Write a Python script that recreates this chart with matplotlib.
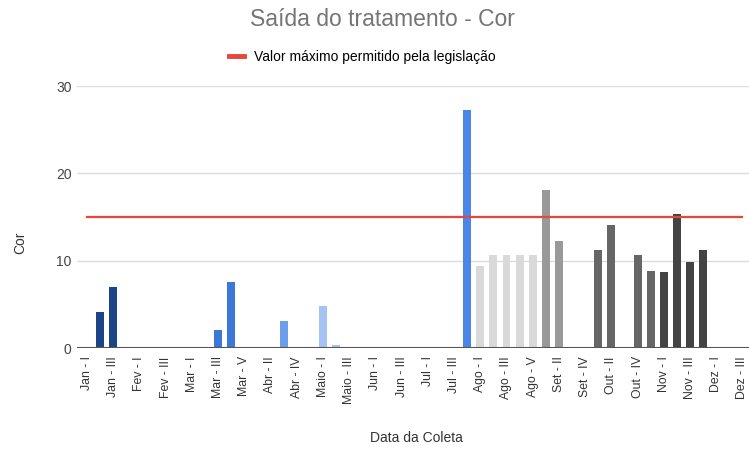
import numpy as np
import matplotlib
matplotlib.use('Agg')
import matplotlib.pyplot as plt
from matplotlib.lines import Line2D

plt.rcParams['font.family'] = ['Liberation Sans', 'DejaVu Sans']

# weekly sample labels
categorias = ['Jan - I', 'Jan - II', 'Jan - III', 'Jan - IV',
              'Fev - I', 'Fev - II', 'Fev - III', 'Fev - IV',
              'Mar - I', 'Mar - II', 'Mar - III', 'Mar - IV', 'Mar - V',
              'Abr - I', 'Abr - II', 'Abr - III', 'Abr - IV', 'Abr - V',
              'Maio - I', 'Maio - II', 'Maio - III', 'Maio - IV',
              'Jun - I', 'Jun - II', 'Jun - III', 'Jun - IV',
              'Jul - I', 'Jul - II', 'Jul - III', 'Jul - IV',
              'Ago - I', 'Ago - II', 'Ago - III', 'Ago - IV', 'Ago - V',
              'Set - I', 'Set - II', 'Set - III', 'Set - IV',
              'Out - I', 'Out - II', 'Out - III', 'Out - IV', 'Out - V',
              'Nov - I', 'Nov - II', 'Nov - III', 'Nov - IV',
              'Dez - I', 'Dez - II', 'Dez - III']

nan = np.nan
cor = [nan, 4.1, 7.0, nan,
       nan, nan, nan, nan,
       nan, nan, 2.1, 7.6, nan,
       nan, nan, 3.1, nan, nan,
       4.8, 0.3, nan, nan,
       nan, nan, nan, nan,
       nan, nan, nan, 27.3,
       9.4, 10.7, 10.6, 10.6, 10.6,
       18.1, 12.2, nan, nan,
       11.2, 14.1, nan, 10.6, 8.8,
       8.7, 15.3, 9.9, 11.2,
       nan, nan, nan]

limite = 15  # valor maximo permitido

# bar colour by month
cores_mes = {'Jan': '#1c4587', 'Fev': '#1c4587', 'Mar': '#3c78d8', 'Abr': '#6d9eeb',
             'Maio': '#a4c2f4', 'Jun': '#a4c2f4', 'Jul': '#4a86e8', 'Ago': '#d9d9d9',
             'Set': '#999999', 'Out': '#666666', 'Nov': '#434343', 'Dez': '#434343'}

x = np.arange(len(categorias))
cores = [cores_mes[c.split(' - ')[0]] for c in categorias]

fig = plt.figure(figsize=(7.49, 4.49), dpi=100)
ax = fig.add_axes([77/749, 1-348/449, 1-77/749, (348-86)/449])

ax.bar(x, np.nan_to_num(cor), width=0.6, color=cores, zorder=3)
ax.plot(x, [limite]*len(x), color='#e8453c', linewidth=1.6, zorder=4)

ax.set_ylim(0, 30)
ax.set_xlim(-0.76, 50.5)
ax.set_yticks([0, 10, 20, 30])
ax.yaxis.grid(True, color='#dcdcdc', linewidth=1, zorder=0)
ax.axhline(0, color='#555555', linewidth=1.5, zorder=5)
for s in ax.spines.values():
    s.set_visible(False)
ax.tick_params(axis='both', length=0)
ax.tick_params(axis='y', labelsize=10, labelcolor='#444444', pad=4)
ax.set_xticks(x[::2])
ax.set_xticklabels(categorias[::2], rotation=90, fontsize=8.8, color='#333333')
ax.tick_params(axis='x', pad=6)

fig.text(382/749, 1-20/449, 'Saída do tratamento - Cor', ha='center', va='center',
         fontsize=16.5, color='#757575')
fig.text(20/749, 1-243/449, 'Cor', rotation=90, ha='center', va='center',
         fontsize=10, color='#333333')
fig.text(416/749, 1-438/449, 'Data da Coleta', ha='center', va='center',
         fontsize=10, color='#333333')

handle = Line2D([], [], color='#e8453c', linewidth=3.5)
fig.legend([handle], ['Valor máximo permitido pela legislação'], loc='center',
           bbox_to_anchor=(362/749, 1-57/449), frameon=False, fontsize=10,
           handlelength=1.1, handletextpad=0.7)

plt.savefig('out.png', dpi=100)
